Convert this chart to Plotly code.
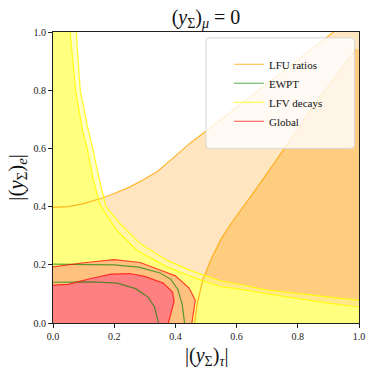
import plotly.graph_objects as go

# boundaries, (|y_tau|, |y_e|)
lfu_2s_x = [0.0, 0.05, 0.1, 0.154, 0.2, 0.25, 0.295, 0.34, 0.39, 0.448, 0.55, 0.683, 0.8, 0.917]
lfu_2s_y = [0.397, 0.4, 0.41, 0.427, 0.445, 0.467, 0.492, 0.52, 0.565, 0.618, 0.70, 0.81, 0.905, 1.0]
lfu_1s_x = [0.463, 0.47, 0.49, 0.515, 0.55, 0.59, 0.65, 0.73, 0.85, 0.99]
lfu_1s_y = [0.0, 0.06, 0.15, 0.216, 0.29, 0.354, 0.44, 0.56, 0.745, 0.94]

lfv_2s_x = [0.076, 0.089, 0.115, 0.13, 0.15, 0.173, 0.219, 0.285, 0.372, 0.45, 0.547, 0.6, 0.7, 0.8, 0.9, 1.0]
lfv_2s_y = [1.0, 0.8, 0.664, 0.6, 0.5, 0.4, 0.342, 0.273, 0.216, 0.18, 0.145, 0.135, 0.113, 0.101, 0.09, 0.078]
lfv_1s_x = [0.056, 0.074, 0.096, 0.112, 0.13, 0.154, 0.208, 0.274, 0.372, 0.45, 0.547, 0.6, 0.7, 0.8, 0.9, 1.0]
lfv_1s_y = [1.0, 0.8, 0.664, 0.6, 0.5, 0.405, 0.319, 0.25, 0.193, 0.16, 0.125, 0.118, 0.1, 0.083, 0.068, 0.055]

ewpt_2s_x = [0.0, 0.1, 0.2, 0.28, 0.35, 0.385, 0.408, 0.422, 0.43]
ewpt_2s_y = [0.202, 0.202, 0.2, 0.192, 0.172, 0.15, 0.115, 0.065, 0.0]
ewpt_1s_x = [0.0, 0.13, 0.21, 0.27, 0.31, 0.332, 0.34, 0.345]
ewpt_1s_y = [0.14, 0.141, 0.137, 0.118, 0.09, 0.055, 0.02, 0.0]

glob_2s_x = [0.0, 0.1, 0.2, 0.285, 0.35, 0.4, 0.445, 0.465, 0.454]
glob_2s_y = [0.193, 0.207, 0.218, 0.208, 0.182, 0.162, 0.12, 0.078, 0.0]
glob_1s_x = [0.0, 0.05, 0.12, 0.19, 0.25, 0.3, 0.36, 0.39, 0.396, 0.385, 0.377]
glob_1s_y = [0.13, 0.133, 0.152, 0.168, 0.17, 0.16, 0.137, 0.107, 0.075, 0.03, 0.0]

labels = ['LFU ratios', 'EWPT', 'LFV decays', 'Global']

SERIF = 'Liberation Serif, DejaVu Serif, serif'

fig = go.Figure()


def fill(x, y, color):
    fig.add_trace(go.Scatter(x=x, y=y, mode='lines', fill='toself', fillcolor=color,
                             line=dict(width=0), showlegend=False, hoverinfo='skip'))


def line(x, y, color, name=None):
    fig.add_trace(go.Scatter(x=x, y=y, mode='lines', line=dict(color=color, width=1.2),
                             name=name, showlegend=name is not None, hoverinfo='skip'))


# filled regions, back to front
fill(lfu_2s_x + [1, 1, 0], lfu_2s_y + [1, 0, 0], '#ffe6c0')
fill(lfu_1s_x + [1, 1], lfu_1s_y + [lfu_1s_y[-1], 0], '#ffcd80')
fill([0] + lfv_2s_x + [1, 0], [1] + lfv_2s_y + [0, 0], 'rgba(255,255,150,0.55)')
fill([0] + lfv_1s_x + [1, 0], [1] + lfv_1s_y + [0, 0], '#ffff80')
fill(glob_2s_x + [0], glob_2s_y + [0], '#ffc080')
fill(glob_1s_x + [0], glob_1s_y + [0], '#ff8080')

# contour lines
orange = 'rgba(255,165,0,0.8)'
green = 'rgba(0,128,0,0.65)'
yellow = 'rgba(255,255,0,0.85)'
red = 'rgba(255,0,0,0.7)'
line(lfu_2s_x, lfu_2s_y, orange, labels[0])
line(lfu_1s_x, lfu_1s_y, orange)
line(ewpt_2s_x, ewpt_2s_y, green, labels[1])
line(ewpt_1s_x, ewpt_1s_y, green)
line(lfv_2s_x, lfv_2s_y, yellow, labels[2])
line(lfv_1s_x, lfv_1s_y, yellow)
line(glob_2s_x, glob_2s_y, red, labels[3])
line(glob_1s_x, glob_1s_y, red)

# legend frame (matplotlib style, semi-transparent)
x0, x1, y0, y1, rx, ry = 0.5, 0.986, 0.6, 0.98, 0.013, 0.014
path = (f'M {x0+rx},{y0} L {x1-rx},{y0} Q {x1},{y0} {x1},{y0+ry} L {x1},{y1-ry} '
        f'Q {x1},{y1} {x1-rx},{y1} L {x0+rx},{y1} Q {x0},{y1} {x0},{y1-ry} '
        f'L {x0},{y0+ry} Q {x0},{y0} {x0+rx},{y0} Z')
fig.add_shape(type='path', path=path, xref='paper', yref='paper',
              fillcolor='rgba(255,255,255,0.8)', line=dict(color='#d6d6d6', width=1), layer='above')

axis = dict(range=[0, 1], showgrid=False, zeroline=False, showline=True, mirror=True,
            linecolor='#222', linewidth=1, ticks='outside', ticklen=4, tickcolor='#222',
            tickformat='.1f', dtick=0.2, automargin=False,
            tickfont=dict(family=SERIF, size=10, color='#222'))

title_font = dict(family=SERIF, size=20, color='#111')
fig.add_annotation(text='|(<i>y</i><sub>Σ</sub>)<sub><i>τ</i></sub>|', xref='paper', yref='paper',
                   x=0.5, y=-0.115, xanchor='center', yanchor='middle', showarrow=False, font=title_font)
fig.add_annotation(text='|(<i>y</i><sub>Σ</sub>)<sub><i>e</i></sub>|', xref='paper', yref='paper',
                   x=-0.12, y=0.5, xanchor='center', yanchor='middle', textangle=-90,
                   showarrow=False, font=dict(title_font, size=21))

fig.update_layout(
    width=374, height=373,
    margin=dict(l=53, r=15, t=32, b=50),
    paper_bgcolor='white', plot_bgcolor='white',
    title=dict(text='(<i>y</i><sub>Σ</sub>)<sub><i>μ</i></sub> = 0', x=0.5, xref='paper',
               y=0.955, yref='container', yanchor='middle',
               font=dict(family=SERIF, size=20, color='#111')),
    xaxis=axis,
    yaxis=axis,
    legend=dict(x=0.575, y=0.939, xanchor='left', yanchor='top', bgcolor='rgba(0,0,0,0)',
                borderwidth=0, font=dict(family=SERIF, size=11, color='#111'),
                tracegroupgap=0, itemwidth=30),
    showlegend=True,
)

# drop the browser's default page margin so the figure sits at the window corner
fig.write_html('out.html', config={'displayModeBar': False},
               post_script="document.body.style.margin='0px';")
